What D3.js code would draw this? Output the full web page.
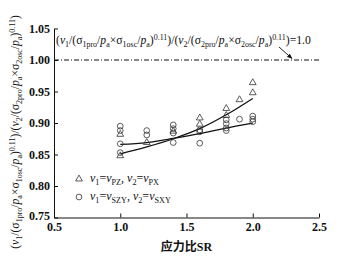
<!DOCTYPE html>
<html><head><meta charset="utf-8">
<script src="https://cdn.jsdelivr.net/npm/d3@7"></script>
<style>
body{margin:0;background:#fff;}
svg{display:block;}
text{font-family:"Liberation Serif","Times New Roman",serif;fill:#111;}
</style></head>
<body>
<script>
// ---- data ----
const xTicks = [0.5, 1.0, 1.5, 2.0, 2.5];
const yTicks = [0.75, 0.80, 0.85, 0.90, 0.95, 1.00, 1.05];
// v1=vPZ, v2=vPX (triangles)
const pSR  = [1.0, 1.0, 1.2, 1.4, 1.6, 1.6, 1.8, 1.8, 1.9, 2.0, 2.0];
const pVal = [0.882, 0.848, 0.869, 0.887, 0.908, 0.898, 0.923, 0.912, 0.937, 0.964, 0.948];
// v1=vSZY, v2=vSXY (circles)
const sSR  = [1.0, 1.0, 1.0, 1.0, 1.2, 1.2, 1.4, 1.4, 1.4, 1.4, 1.6, 1.6, 1.6, 1.8, 1.8, 1.8, 1.8, 1.9, 2.0, 2.0, 2.0];
const sVal = [0.895, 0.888, 0.867, 0.853, 0.888, 0.881, 0.897, 0.891, 0.884, 0.869, 0.889, 0.886, 0.868, 0.905, 0.899, 0.892, 0.888, 0.906, 0.911, 0.906, 0.902];
// fitted curves
const fitSR   = [1.0, 1.2, 1.4, 1.6, 1.8, 2.0];
const fitP    = [0.851, 0.862, 0.875, 0.891, 0.913, 0.939];
const fitS    = [0.866, 0.869, 0.8755, 0.883, 0.892, 0.900];
const refLine = 1.0;

const W = 346, H = 266;
const svg = d3.select("body").append("svg").attr("width", W).attr("height", H);
const x = d3.scaleLinear().domain([0.5, 2.5]).range([54, 319]);
const y = d3.scaleLinear().domain([0.75, 1.05]).range([217.5, 28.5]);

// rich text helper
function rich(sel, segs, size) {
  let shift = 0;
  segs.forEach(s => {
    const [t, st] = s;
    let target = 0, fs = size;
    if (st && st.includes("sub")) { target = size * 0.28; fs = size * 0.68; }
    if (st && st.includes("sup")) { target = -size * 0.38; fs = size * 0.68; }
    const ts = sel.append("tspan").text(t).attr("font-size", fs)
      .attr("dy", (target - shift).toFixed(2));
    if (st && st.includes("i")) ts.attr("font-style", "italic");
    shift = target;
  });
}
const formula = [
  ["("], ["v","i"], ["1","sub"], ["/(σ"], ["1pro","sub"], ["/"], ["p","i"], ["a","sub"],
  ["×σ"], ["1osc","sub"], ["/"], ["p","i"], ["a","sub"], [")"], ["0.11","sup"],
  [")/("], ["v","i"], ["2","sub"], ["/(σ"], ["2pro","sub"], ["/"], ["p","i"], ["a","sub"],
  ["×σ"], ["2osc","sub"], ["/"], ["p","i"], ["a","sub"], [")"], ["0.11","sup"], [")"]
];

// axes
const gx = svg.append("g").attr("transform", `translate(0,${y(0.75)})`)
  .call(d3.axisBottom(x).tickValues(xTicks).tickFormat(d3.format(".1f")).tickSizeInner(-4).tickSizeOuter(0).tickPadding(5));
const gy = svg.append("g").attr("transform", `translate(${x(0.5)},0)`)
  .call(d3.axisLeft(y).tickValues(yTicks).tickFormat(d3.format(".2f")).tickSizeInner(-4).tickSizeOuter(0).tickPadding(4));
[gx, gy].forEach(g => {
  g.selectAll("path,line").attr("stroke", "#111").attr("stroke-width", 1);
  g.selectAll("text").attr("font-size", 12).attr("font-weight", "bold").attr("fill", "#111")
    .attr("font-family", "Liberation Serif, serif");
});
gy.selectAll(".tick").filter(d => d === 0.75).select("text").attr("dy", "0.2em");

// reference line
svg.append("line").attr("x1", x(0.5)).attr("x2", x(2.5)).attr("y1", y(refLine)).attr("y2", y(refLine))
  .attr("stroke", "#111").attr("stroke-width", 1).attr("stroke-dasharray", "5,2,1,2");

// annotation
const ann = svg.append("text").attr("x", 56).attr("y", 44);
rich(ann, formula.concat([["=1.0"]]), 11.7);
// arrow
svg.append("defs").append("marker").attr("id", "ah").attr("viewBox", "0 0 10 10")
  .attr("refX", 9).attr("refY", 5).attr("markerWidth", 6).attr("markerHeight", 6).attr("orient", "auto")
  .append("path").attr("d", "M0,1 L10,5 L0,9 z").attr("fill", "#111");
svg.append("line").attr("x1", 279).attr("y1", 47).attr("x2", 292).attr("y2", y(refLine) - 1.5)
  .attr("stroke", "#111").attr("stroke-width", 0.9).attr("marker-end", "url(#ah)");

// y label
const yl = svg.append("text").attr("transform", `translate(19,${132}) rotate(-90)`).attr("text-anchor", "middle");
rich(yl, formula, 11.7);

// x label
const xt = svg.append("text").attr("x", 186.5).attr("y", 251).attr("text-anchor", "middle")
  .attr("font-size", 12);
xt.append("tspan").style("font-family", "'Noto Sans CJK SC',sans-serif").attr("font-weight", "bold").text("应力比");
xt.append("tspan").attr("font-weight", "bold").text("SR");

// fitted curves
const line = d3.line().x(d => x(d[0])).y(d => y(d[1])).curve(d3.curveMonotoneX);
svg.append("path").attr("d", line(fitSR.map((s, i) => [s, fitP[i]])))
  .attr("fill", "none").attr("stroke", "#111").attr("stroke-width", 1.3);
svg.append("path").attr("d", line(fitSR.map((s, i) => [s, fitS[i]])))
  .attr("fill", "none").attr("stroke", "#111").attr("stroke-width", 1.3);

// markers
const tri = d3.symbol().type(d3.symbolTriangle).size(20)();
const circ = d3.symbol().type(d3.symbolCircle).size(26)();
svg.append("g").selectAll("path").data(sSR.map((s, i) => [s, sVal[i]])).join("path")
  .attr("d", circ).attr("transform", d => `translate(${x(d[0])},${y(d[1])})`)
  .attr("fill", "none").attr("stroke", "#333").attr("stroke-width", 0.8);
svg.append("g").selectAll("path").data(pSR.map((s, i) => [s, pVal[i]])).join("path")
  .attr("d", tri).attr("transform", d => `translate(${x(d[0])},${y(d[1])})`)
  .attr("fill", "none").attr("stroke", "#333").attr("stroke-width", 0.8);

// legend
svg.append("path").attr("d", tri).attr("transform", "translate(79,179)")
  .attr("fill", "none").attr("stroke", "#333").attr("stroke-width", 0.8);
svg.append("path").attr("d", circ).attr("transform", "translate(79,197)")
  .attr("fill", "none").attr("stroke", "#333").attr("stroke-width", 0.8);
const l1 = svg.append("text").attr("x", 90).attr("y", 182);
rich(l1, [["v","i"],["1","sub"],["="],["v","i"],["PZ","sub"],[", "],["v","i"],["2","sub"],["="],["v","i"],["PX","sub"]], 12);
const l2 = svg.append("text").attr("x", 90).attr("y", 200);
rich(l2, [["v","i"],["1","sub"],["="],["v","i"],["SZY","sub"],[", "],["v","i"],["2","sub"],["="],["v","i"],["SXY","sub"]], 12);
</script>
</body></html>
